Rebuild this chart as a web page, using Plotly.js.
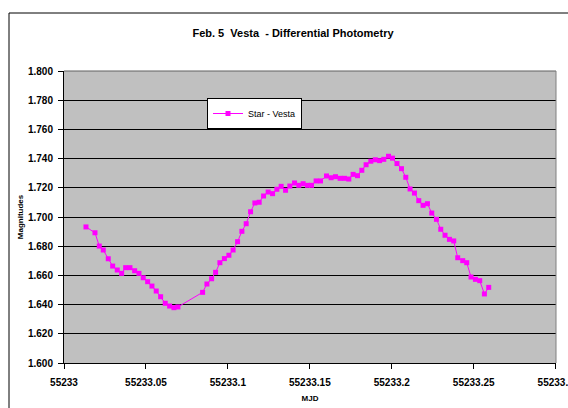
<!DOCTYPE html>
<html>
<head>
<meta charset="utf-8">
<script src="https://cdn.plot.ly/plotly-3.0.1.min.js"></script>
<style>
  html, body { margin: 0; padding: 0; background: #ffffff; }
  #chart { width: 568px; height: 408px; }
</style>
</head>
<body>
<div id="chart"></div>
<script>
// MJD (observation times)
const mjd = [
  55233.01341, 55233.01890, 55233.02152, 55233.02396, 55233.02701, 55233.02970,
  55233.03250, 55233.03518, 55233.03762, 55233.04024, 55233.04311, 55233.04573,
  55233.04835, 55233.05104, 55233.05366, 55233.05628, 55233.05896, 55233.06177,
  55233.06445, 55233.06707, 55233.06951, 55233.08457, 55233.08720, 55233.09006,
  55233.09250, 55233.09512, 55233.09787, 55233.10061, 55233.10317, 55233.10591,
  55233.10854, 55233.11116, 55233.11384, 55233.11646, 55233.11909, 55233.12177,
  55233.12457, 55233.12726, 55233.12988, 55233.13250, 55233.13518, 55233.13780,
  55233.14067, 55233.14329, 55233.14591, 55233.14860, 55233.15104, 55233.15384,
  55233.15652, 55233.16018, 55233.16299, 55233.16567, 55233.16848, 55233.17116,
  55233.17378, 55233.17640, 55233.17909, 55233.18171, 55233.18433, 55233.18720,
  55233.18994, 55233.19256, 55233.19512, 55233.19799, 55233.20043, 55233.20317,
  55233.20591, 55233.20854, 55233.21116, 55233.21384, 55233.21646, 55233.21909,
  55233.22177, 55233.22439, 55233.22726, 55233.22988, 55233.23250, 55233.23518,
  55233.23780, 55233.24024, 55233.24329, 55233.24573, 55233.24835, 55233.25104,
  55233.25366, 55233.25652, 55233.25915
];
// Star - Vesta differential magnitudes
const starMinusVesta = [
  1.6932, 1.6892, 1.6801, 1.6774, 1.6714, 1.6664,
  1.6637, 1.6614, 1.6653, 1.6653, 1.6632, 1.6614,
  1.6584, 1.6557, 1.6527, 1.6493, 1.6454, 1.6409,
  1.6390, 1.6379, 1.6384, 1.6484, 1.6541, 1.6577,
  1.6621, 1.6687, 1.6715, 1.6738, 1.6774, 1.6831,
  1.6902, 1.6954, 1.7036, 1.7096, 1.7101, 1.7144,
  1.7171, 1.7160, 1.7190, 1.7210, 1.7183, 1.7212,
  1.7233, 1.7217, 1.7228, 1.7217, 1.7217, 1.7247,
  1.7247, 1.7281, 1.7269, 1.7276, 1.7265, 1.7265,
  1.7260, 1.7292, 1.7283, 1.7320, 1.7358, 1.7382,
  1.7392, 1.7386, 1.7395, 1.7416, 1.7403, 1.7366,
  1.7331, 1.7272, 1.7192, 1.7164, 1.7112, 1.7080,
  1.7091, 1.7027, 1.6984, 1.6916, 1.6875, 1.6847,
  1.6836, 1.6721, 1.6701, 1.6687, 1.6589, 1.6573,
  1.6564, 1.6473, 1.6518
];
const seriesName = 'Star - Vesta';
const xTickVals = [55233, 55233.05, 55233.1, 55233.15, 55233.2, 55233.25, 55233.3];
const xTickText = ['55233', '55233.05', '55233.1', '55233.15', '55233.2', '55233.25', '55233.3'];
const chartTitle = 'Feb. 5 \u00a0Vesta \u00a0- Differential Photometry';
const xTitle = 'MJD';
const yTitle = 'Magnitudes';

const FONT = 'Liberation Sans, Arial, sans-serif';

const trace = {
  x: mjd,
  y: starMinusVesta,
  name: seriesName,
  type: 'scatter',
  mode: 'lines+markers',
  line: { color: '#FF00FF', width: 1 },
  marker: { color: '#FF00FF', symbol: 'square', size: 5, line: { width: 0 } },
  showlegend: true
};

const layout = {
  width: 568,
  height: 408,
  margin: { l: 64, r: 12, t: 71, b: 45, pad: 0 },
  paper_bgcolor: '#ffffff',
  plot_bgcolor: '#C0C0C0',
  font: { family: FONT, color: '#000000' },
  title: {
    text: chartTitle,
    font: { family: FONT, size: 11, weight: 'bold', color: '#000000' },
    xref: 'container', yref: 'container',
    x: 293 / 568, xanchor: 'center',
    y: 1 - 33 / 408, yanchor: 'middle'
  },
  xaxis: {
    range: [55233, 55233.3002],
    tickmode: 'array',
    tickvals: xTickVals,
    ticktext: xTickText,
    ticks: 'outside', ticklen: 5, tickcolor: '#000000', tickwidth: 1,
    ticklabelstandoff: 5,
    ticklabeloverflow: 'allow',
    showline: true, linecolor: '#000000', linewidth: 1,
    showgrid: false, zeroline: false,
    tickfont: { family: FONT, size: 10, weight: 'bold', color: '#000000' },
    title: { text: xTitle, standoff: 8, font: { family: FONT, size: 8, weight: 'bold', color: '#000000' } },
    automargin: false
  },
  yaxis: {
    range: [1.6, 1.8],
    tick0: 1.6, dtick: 0.02,
    tickformat: '.3f',
    ticks: 'outside', ticklen: 5, tickcolor: '#000000', tickwidth: 1,
    ticklabelstandoff: 3,
    showline: true, linecolor: '#000000', linewidth: 1,
    showgrid: true, gridcolor: '#000000', gridwidth: 1,
    zeroline: false,
    tickfont: { family: FONT, size: 10, weight: 'bold', color: '#000000' },
    title: { text: yTitle, standoff: 3, font: { family: FONT, size: 8, weight: 'bold', color: '#000000' } },
    automargin: false
  },
  legend: {
    x: (207 - 64) / 492, y: (363 - 98) / 292,
    xanchor: 'left', yanchor: 'top',
    bgcolor: '#ffffff', bordercolor: '#000000', borderwidth: 1,
    font: { family: FONT, size: 9, color: '#000000' },
    itemwidth: 30
  },
  shapes: [
    // outer chart-area border
    { type: 'rect', xref: 'paper', yref: 'paper',
      x0: (9 - 64) / 492, x1: 1.2, y0: -0.5, y1: (363 - 13) / 292,
      line: { color: '#000000', width: 1 }, fillcolor: 'rgba(0,0,0,0)', layer: 'above' },
    // plot-area border (top and right)
    { type: 'line', xref: 'paper', yref: 'paper', x0: 0, x1: 1, y0: 1, y1: 1,
      line: { color: '#606060', width: 1 }, layer: 'above' },
    { type: 'line', xref: 'paper', yref: 'paper', x0: 1, x1: 1, y0: 0, y1: 1,
      line: { color: '#808080', width: 1 }, layer: 'above' }
  ]
};

Plotly.newPlot('chart', [trace], layout, { displayModeBar: false, staticPlot: true });
</script>
</body>
</html>
